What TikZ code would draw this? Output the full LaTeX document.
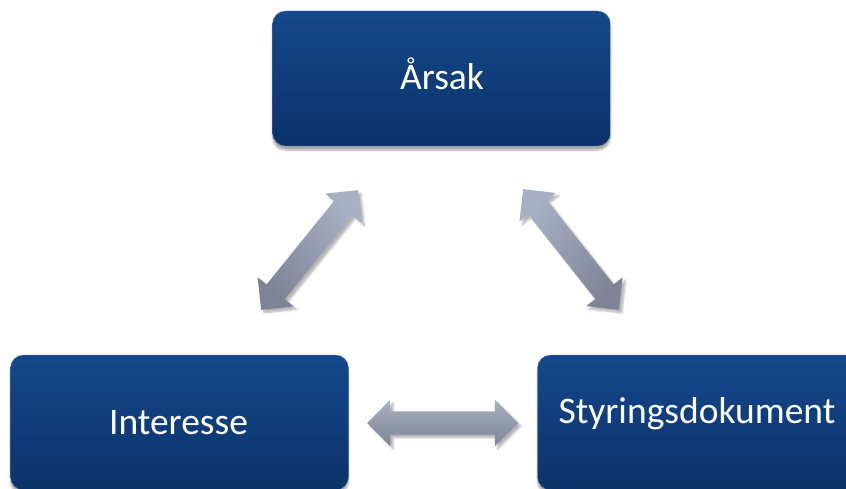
\documentclass[tikz,border=0pt]{standalone}
\usepackage{fontspec}
\setmainfont{Carlito}
\usetikzlibrary{shapes.arrows,shadows.blur}
\definecolor{boxtop}{RGB}{20,72,140}
\definecolor{boxbot}{RGB}{12,50,105}
\definecolor{arrtop}{RGB}{168,176,195}
\definecolor{arrbot}{RGB}{126,132,150}
\begin{document}
\begin{tikzpicture}[x=1pt,y=-1pt,
 box/.style={rectangle, rounded corners=13pt, minimum width=338pt, minimum height=135pt, inner sep=0pt,
   top color=boxtop, bottom color=boxbot, draw=boxtop!70!white, line width=0.3pt,
   blur shadow={shadow xshift=0pt, shadow yshift=-4pt, shadow blur steps=8, shadow opacity=35}},
 lbl/.style={text=white, font=\fontsize{37.5}{45}\selectfont, anchor=base, inner sep=0pt},
 dbl/.style={double arrow, double arrow head extend=11.5pt, text height=11.5pt, text depth=11.5pt, inner sep=0pt,
   blur shadow={shadow xshift=3pt, shadow yshift=-3pt, shadow blur steps=8, shadow opacity=30}}
]
\clip (0,0) rectangle (846,489);
\node[box] (arsak) at (441.5,78.5) {};
\node[box] (interesse) at (179.5,422.5) {};
\node[box] (styring) at (706.5,422.5) {};
\node[lbl] (tarsak) at (442,90) {Årsak};
\node[lbl] (tinteresse) at (178.5,434) {Interesse};
\node[lbl] (tstyring) at (697,423) {Styringsdokument};
\node[dbl, minimum height=154pt, rotate=51.05, top color=arrtop, bottom color=arrbot, shading angle=-51.05] (a1) at (309.5,250) {};
\node[dbl, minimum height=154pt, rotate=-51.6, top color=arrtop, bottom color=arrbot, shading angle=51.6] (a2) at (571,249.5) {};
\node[dbl, minimum height=151pt, top color=arrtop, bottom color=arrbot] (a3) at (442.5,423) {};
\end{tikzpicture}
\end{document}
